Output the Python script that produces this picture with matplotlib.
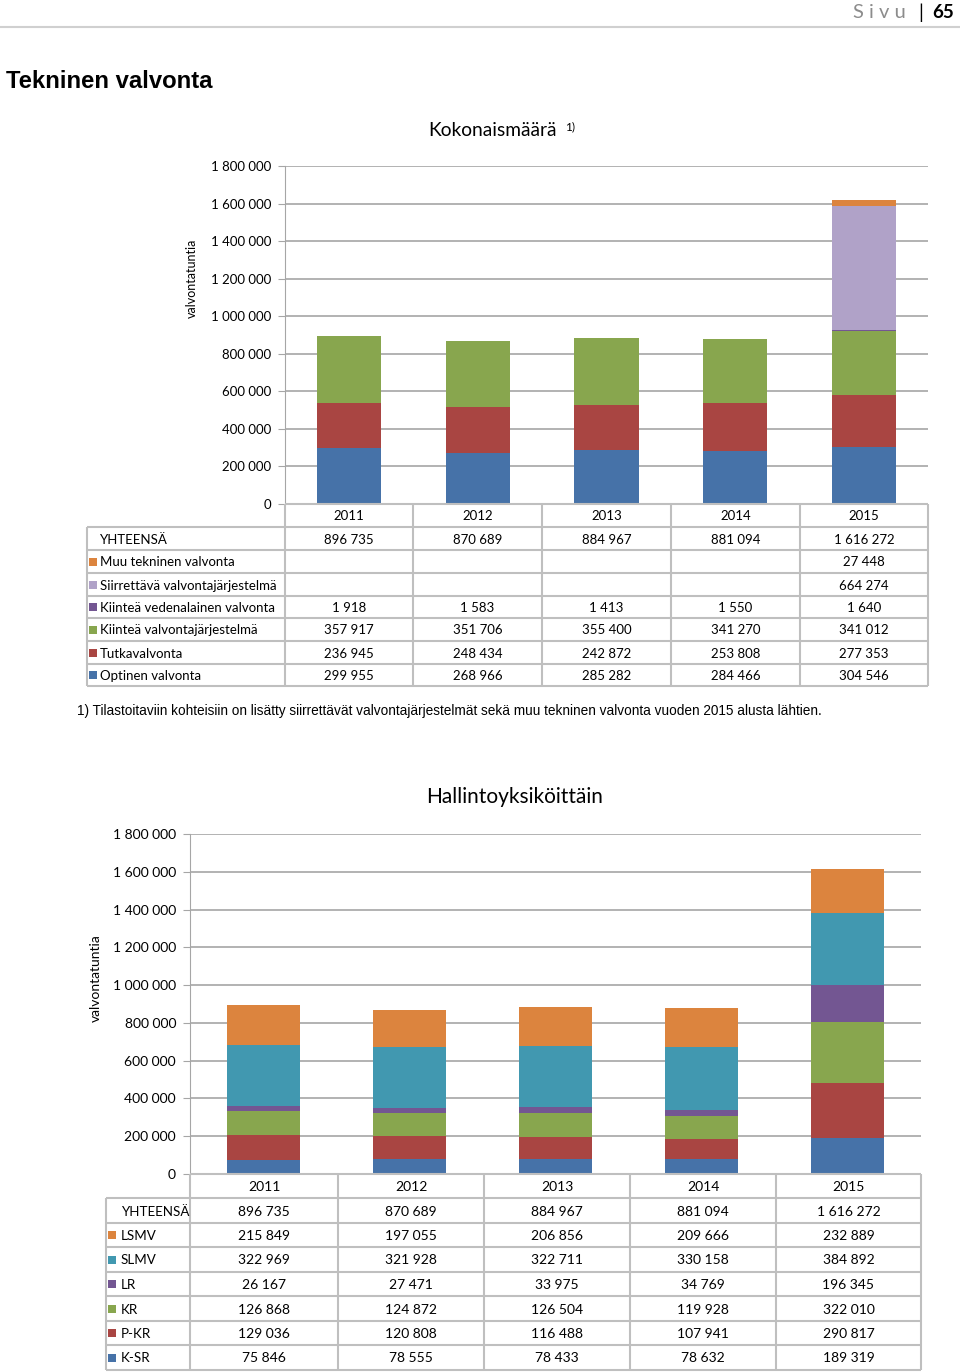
import matplotlib.pyplot as plt

# Data
years = [2011, 2012, 2013, 2014, 2015]

# Kokonaismäärä
optinen = [299955, 268966, 285282, 284466, 304546]
tutka = [236945, 248434, 242872, 253808, 277353]
kiintea = [357917, 351706, 355400, 341270, 341012]
vedenalainen = [1918, 1583, 1413, 1550, 1640]
siirrettava = [None, None, None, None, 664274]
muu = [None, None, None, None, 27448]
yhteensa = [896735, 870689, 884967, 881094, 1616272]

# Hallintoyksiköittäin
lsmv = [215849, 197055, 206856, 209666, 232889]
slmv = [322969, 321928, 322711, 330158, 384892]
lr = [26167, 27471, 33975, 34769, 196345]
kr = [126868, 124872, 126504, 119928, 322010]
pkr = [129036, 120808, 116488, 107941, 290817]
ksr = [75846, 78555, 78433, 78632, 189319]

BLUE = '#4672A8'
RED = '#A94542'
GREEN = '#88A64E'
PURPLE = '#735692'
LILAC = '#B0A2C8'
ORANGE = '#DC843E'
TEAL = '#4198B0'

FONT = 'Lato'
GRID = '#A6A6A6'
LINE = '#BFBFBF'

W, H = 960, 1372
fig = plt.figure(figsize=(W / 100, H / 100), dpi=100)


def fmt(v):
    return '' if v is None else f'{v:,}'.replace(',', ' ')


def px_axes(x0, y0, x1, y1):
    # axes given in pixel coords (y from top)
    return fig.add_axes([x0 / W, 1 - y1 / H, (x1 - x0) / W, (y1 - y0) / H])


def stacked_chart(box, series, colors, tick_fs):
    ax = px_axes(*box)
    x = list(range(len(years)))
    bottom = [0] * len(years)
    for vals, c in zip(series, colors):
        v = [0 if s is None else s for s in vals]
        ax.bar(x, v, 0.5, bottom=bottom, color=c, zorder=3)
        bottom = [b + s for b, s in zip(bottom, v)]
    ax.set_xlim(-0.5, len(years) - 0.5)
    ax.set_ylim(0, 1800000)
    ax.set_yticks(range(0, 1800001, 200000))
    ax.set_yticklabels([fmt(t) for t in range(0, 1800001, 200000)],
                       fontsize=tick_fs, family=FONT)
    ax.set_xticks([])
    ax.yaxis.grid(True, color=GRID, lw=1.2)
    for s in ['top', 'right', 'bottom']:
        ax.spines[s].set_visible(False)
    ax.spines['left'].set_color(GRID)
    ax.tick_params(axis='y', length=5, color=GRID, pad=5)
    ax.patch.set_visible(False)
    return ax


ov = fig.add_axes([0, 0, 1, 1], zorder=5)
ov.set_xlim(0, W)
ov.set_ylim(H, 0)
ov.axis('off')
ov.patch.set_visible(False)


def draw_table(cols, header, rows, lab_x, labels, colors, values, fs, mark, gap,
               lab_fs=None):
    lab_fs = lab_fs or fs
    # header row with years
    ov.hlines(header[0], cols[0], cols[-1], color=LINE, lw=1.5)
    for i, yr in enumerate(years):
        ov.text((cols[i] + cols[i + 1]) / 2, (header[0] + header[1]) / 2 + 1,
                str(yr), ha='center', va='center', fontsize=fs, family=FONT)
    for y in rows:
        ov.hlines(y, lab_x, cols[-1], color=LINE, lw=1.5)
    for xc in cols:
        ov.vlines(xc, header[0], rows[-1], color=LINE, lw=1.5)
    ov.vlines(lab_x, rows[0], rows[-1], color=LINE, lw=1.5)
    for r, (lab, c, vals) in enumerate(zip(labels, colors, values)):
        yc = (rows[r] + rows[r + 1]) / 2 + 1
        tx = lab_x + 2 + mark + gap
        if c is not None:
            ov.add_patch(plt.Rectangle((lab_x + 2, yc - mark / 2 - 1), mark, mark,
                                       color=c, lw=0))
        ov.text(tx, yc, lab, ha='left', va='center', fontsize=lab_fs, family=FONT)
        for i, v in enumerate(vals):
            ov.text((cols[i] + cols[i + 1]) / 2, yc, fmt(v), ha='center',
                    va='center', fontsize=fs, family=FONT)


# page header
ov.text(906, 13, 'S i v u', ha='right', va='center', fontsize=14.5,
        color='#8C8C8C', family=FONT)
ov.text(921, 13, '|', ha='center', va='center', fontsize=14, family=FONT)
ov.text(932, 13, '65', ha='left', va='center', fontsize=13.5,
        fontweight='bold', family=FONT)
ov.hlines(27, 0, W, color='#D0D0D0', lw=1.5)

ov.text(6, 82, 'Tekninen valvonta', ha='left', va='center', fontsize=17.2,
        fontweight='bold', family='Liberation Sans')

# chart 1
stacked_chart((285, 166, 928, 504),
              [optinen, tutka, kiintea, vedenalainen, siirrettava, muu],
              [BLUE, RED, GREEN, PURPLE, LILAC, ORANGE], 9.5)
ov.text(428, 131, 'Kokonaismäärä', ha='left', va='center', fontsize=13.8,
        family=FONT)
ov.text(565, 127, '1)', ha='left', va='center', fontsize=8.5, family=FONT)
ov.text(192, 278, 'valvontatuntia', rotation=90, ha='center', va='center',
        fontsize=9, family=FONT)
draw_table([285, 413, 542, 671, 800, 928], (504, 527),
           [527, 550, 573, 596, 618, 641, 664, 686], 87,
           ['YHTEENSÄ', 'Muu tekninen valvonta', 'Siirrettävä valvontajärjestelmä',
            'Kiinteä vedenalainen valvonta', 'Kiinteä valvontajärjestelmä',
            'Tutkavalvonta', 'Optinen valvonta'],
           [None, ORANGE, LILAC, PURPLE, GREEN, RED, BLUE],
           [yhteensa, muu, siirrettava, vedenalainen, kiintea, tutka, optinen],
           9.5, 8, 3)
ov.text(77, 711, '1) Tilastoitaviin kohteisiin on lisätty siirrettävät '
        'valvontajärjestelmät sekä muu tekninen valvonta vuoden 2015 alusta lähtien.',
        ha='left', va='center', fontsize=9.85, family='Liberation Sans')

# chart 2
stacked_chart((190, 834, 921, 1174),
              [ksr, pkr, kr, lr, slmv, lsmv],
              [BLUE, RED, GREEN, PURPLE, TEAL, ORANGE], 10)
ov.text(426, 797, 'Hallintoyksiköittäin', ha='left', va='center', fontsize=15,
        family=FONT)
ov.text(96, 978, 'valvontatuntia', rotation=90, ha='center', va='center',
        fontsize=10, family=FONT)
draw_table([190, 338, 484, 630, 776, 921], (1174, 1198),
           [1198, 1223, 1247, 1272, 1296, 1321, 1345, 1370], 106,
           ['YHTEENSÄ', 'LSMV', 'SLMV', 'LR', 'KR', 'P-KR', 'K-SR'],
           [None, ORANGE, TEAL, PURPLE, GREEN, RED, BLUE],
           [yhteensa, lsmv, slmv, lr, kr, pkr, ksr],
           10, 8, 5, lab_fs=9.6)

fig.savefig('out.png', dpi=100)
